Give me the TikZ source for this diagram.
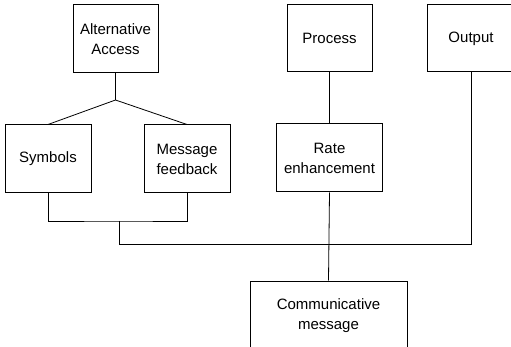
\documentclass[tikz,border=0pt]{standalone}
\usepackage{fontspec}
\setmainfont{Liberation Sans}
\begin{document}
\begin{tikzpicture}[x=1pt,y=-1pt,
  box/.style={draw,line width=1pt,inner sep=0pt,align=center,
    font=\fontsize{15}{20}\selectfont},
  conn/.style={line width=0.8pt}]
\useasboundingbox (0,0) rectangle (511,347);
\clip (0,0) rectangle (511,347);
\node[box,minimum width=85pt,minimum height=68pt] (aa) at (115.5,39) {Alternative\\Access};
\node[box,minimum width=86pt,minimum height=68pt] (sym) at (48,159) {Symbols};
\node[box,minimum width=86pt,minimum height=68pt] (msg) at (187,159) {Message\\feedback};
\node[box,minimum width=85pt,minimum height=67pt] (proc) at (329.5,38.5) {Process};
\node[box,minimum width=88pt,minimum height=67pt] (out) at (471,38.5) {Output};
\node[box,minimum width=106pt,minimum height=68pt] (rate) at (329.5,158) {Rate\\enhancement};
\node[box,minimum width=157pt,minimum height=69pt] (comm) at (328.5,315.5) {Communicative\\message};
\coordinate (ja) at (115.5,100);
\coordinate (jb) at (119,221);
\coordinate (jc) at (119,244);
\draw[conn] (aa.south) -- (ja);
\draw[conn] (ja) -- (sym.north);
\draw[conn] (ja) -- (msg.north);
\draw[conn] (sym.south) |- (jb) -| (msg.south);
\draw[conn] (jb) -- (jc) -| (out.south);
\draw[conn] (proc.south) -- (rate.north);
\draw[conn] (rate.south) -- (comm.north);
\end{tikzpicture}
\end{document}
